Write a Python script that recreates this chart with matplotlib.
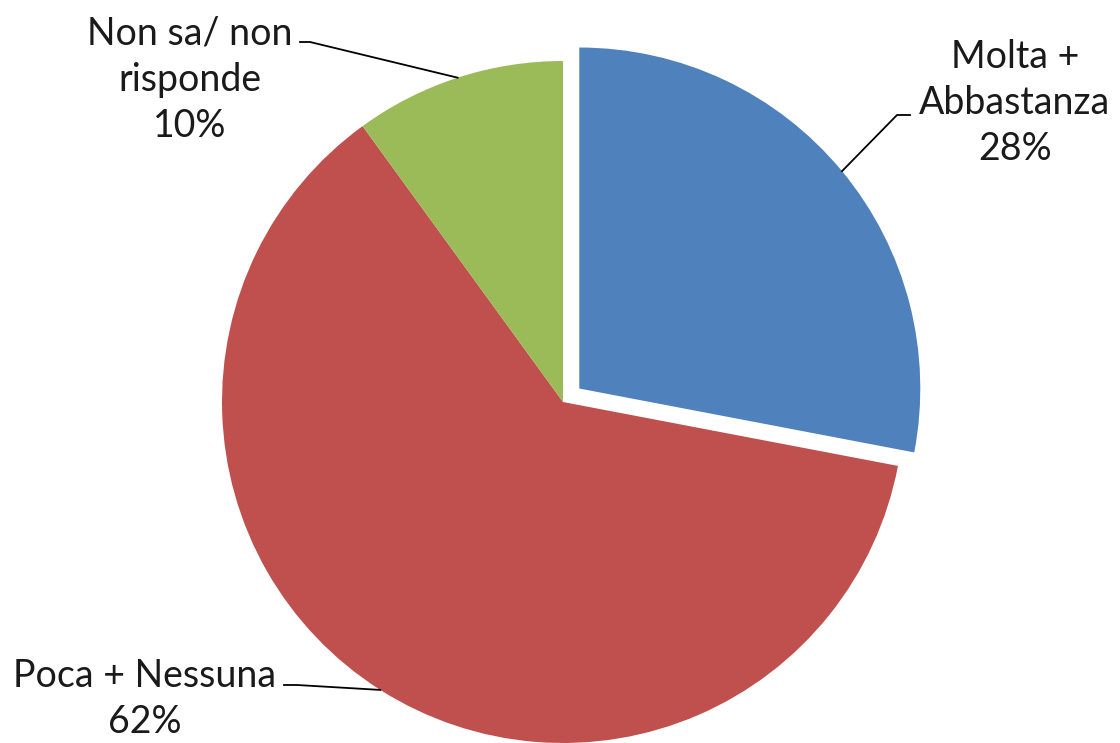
import numpy as np
import matplotlib
matplotlib.use("Agg")
import matplotlib.pyplot as plt

labels = ["Molta +\nAbbastanza", "Poca + Nessuna", "Non sa/ non\nrisponde"]
values = [28, 62, 10]
colors = ["#4F81BD", "#C0504D", "#9BBB59"]

W, H = 1120, 743
cx, cy, R = 563, 341, 341
explode = [0.062 * R, 0, 0]  # pie explode is in data units

fig = plt.figure(figsize=(W / 100, H / 100), dpi=100)
ax = fig.add_axes([0, 0, 1, 1])

wedges, _ = ax.pie(values, colors=colors, startangle=90, counterclock=False,
                   explode=explode, center=(cx, cy), radius=R,
                   wedgeprops=dict(linewidth=0), frame=True)
ax.set_xlim(0, W)
ax.set_ylim(0, H)
ax.set_aspect("equal")
ax.axis("off")

# label text positions and leader elbows (pixel coords, y up)
text_pos = [(1015, 640), (145, 44), (190, 663)]
elbows = [[(897, 628), (910, 628)], [(297, 58), (284, 58)], [(310, 701), (300, 701)]]

font = dict(family=["Lato", "DejaVu Sans"], fontweight="normal", fontsize=27, color="#1a1a1a")
for w, lab, v, tp, el in zip(wedges, labels, values, text_pos, elbows):
    ang = np.deg2rad((w.theta1 + w.theta2) / 2)
    x0, y0 = w.center
    px, py = x0 + R * np.cos(ang), y0 + R * np.sin(ang)
    xs = [px] + [p[0] for p in el]
    ys = [py] + [p[1] for p in el]
    ax.plot(xs, ys, color="black", lw=1.3)
    ax.text(tp[0], tp[1], f"{lab}\n{v}%", ha="center", va="center",
            multialignment="center", linespacing=1.35, **font)

fig.savefig("out.png", dpi=100)
